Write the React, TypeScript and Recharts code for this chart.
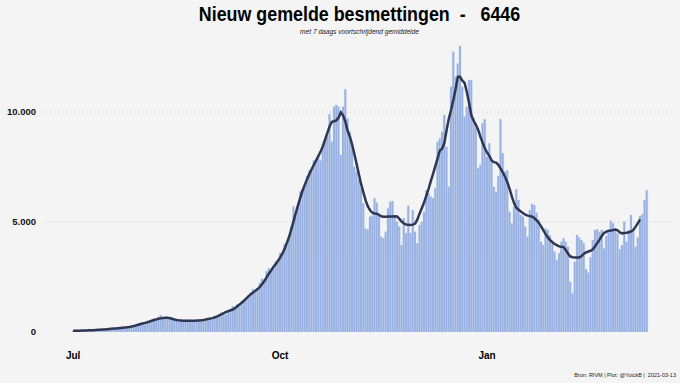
import { ComposedChart, Bar, Line, XAxis, YAxis, CartesianGrid } from "recharts";

const casesJul = [45, 43, 63, 70, 65, 47, 60, 73, 67, 93, 95, 78, 57, 75, 107, 136, 123, 150, 166, 128, 131, 189, 232, 206, 190, 208, 234, 311, 353, 387, 397];
const casesAug = [420, 340, 400, 520, 550, 600, 610, 690, 770, 620, 600, 650, 680, 620, 560, 500, 480, 500, 520, 560, 540, 490, 470, 480, 520, 560, 580, 540, 510, 550, 620];
const casesSep = [560, 640, 700, 760, 870, 800, 780, 900, 1000, 1180, 1140, 1270, 1150, 1250, 1450, 1500, 1650, 1800, 1950, 1850, 1980, 2230, 2420, 2380, 2760, 2900, 2780, 2890, 3200, 3150];
const casesOct = [3600, 3450, 4000, 3950, 4300, 4800, 5700, 5300, 5800, 6400, 6500, 6600, 7100, 7350, 7300, 7800, 7850, 8050, 7800, 8550, 8700, 8900, 9900, 8650, 10240, 10320, 10240, 8050, 10240, 11030, 9710];
const casesNov = [9100, 8580, 7510, 7300, 6910, 6530, 5850, 4710, 4660, 5240, 5300, 6080, 5880, 5390, 4330, 4260, 4560, 5620, 5920, 5950, 5240, 5010, 4790, 3950, 5180, 4500, 5740, 4500, 5545, 4560];
const casesDec = [4030, 4860, 5000, 5470, 6450, 6300, 6150, 6080, 6530, 8650, 8800, 9100, 9860, 8420, 6600, 11150, 12740, 11600, 12210, 13000, 11150, 9790, 10240, 11450, 11450, 9710, 9300, 7440, 7600, 9490, 9670];
const casesJan = [7970, 8580, 7820, 6600, 6380, 7090, 9670, 8120, 7290, 7350, 5470, 4940, 5700, 6490, 6000, 5320, 5250, 4790, 4330, 5545, 5820, 5770, 5420, 5100, 4100, 3950, 4720, 4640, 4400, 4000, 3650];
const casesFeb = [3270, 3580, 4100, 4260, 4100, 3880, 2290, 1760, 3200, 4410, 4300, 4180, 4030, 2850, 2700, 3400, 4180, 4640, 4670, 4550, 4640, 3800, 4360, 4550, 5060, 4940, 4720, 4480];
const casesMar = [3760, 3950, 5010, 4100, 4640, 5320, 4670, 3880, 4300, 5270, 5350, 6000, 6446];

const avgJul = [55, 57, 59, 60, 63, 66, 70, 74, 79, 85, 91, 97, 104, 111, 119, 127, 136, 145, 154, 163, 172, 182, 192, 203, 215, 232, 252, 275, 302, 332, 362];
const avgAug = [390, 415, 445, 475, 510, 545, 575, 600, 620, 635, 645, 645, 630, 600, 570, 550, 535, 525, 515, 510, 510, 512, 515, 517, 520, 525, 535, 550, 570, 595, 615];
const avgSep = [630, 670, 710, 760, 810, 860, 910, 950, 990, 1020, 1090, 1170, 1250, 1340, 1430, 1530, 1630, 1720, 1800, 1880, 1950, 2050, 2180, 2320, 2480, 2650, 2800, 2950, 3080, 3230];
const avgOct = [3380, 3560, 3780, 4050, 4330, 4680, 5050, 5420, 5780, 6120, 6430, 6700, 6950, 7180, 7400, 7600, 7800, 8000, 8200, 8450, 8750, 9050, 9350, 9550, 9580, 9620, 9750, 9980, 9850, 9560, 9150];
const avgNov = [8880, 8520, 8090, 7640, 7170, 6720, 6350, 5980, 5710, 5530, 5420, 5390, 5380, 5320, 5260, 5240, 5240, 5250, 5250, 5250, 5260, 5250, 5140, 5020, 4930, 4890, 4870, 4860, 4880, 4930];
const avgDec = [5120, 5390, 5640, 5900, 6200, 6520, 6870, 7200, 7550, 7900, 8250, 8330, 8600, 9180, 9700, 10100, 10550, 11050, 11600, 11600, 11420, 11320, 10900, 10400, 9850, 9600, 9420, 9200, 8880, 8600, 8350];
const avgJan = [8150, 8000, 7800, 7720, 7700, 7600, 7430, 7250, 7050, 6800, 6500, 6150, 5850, 5650, 5550, 5480, 5400, 5330, 5290, 5270, 5240, 5180, 5080, 4960, 4800, 4620, 4450, 4300, 4180, 4080, 4000];
const avgFeb = [3950, 3890, 3870, 3860, 3720, 3560, 3430, 3400, 3390, 3390, 3390, 3450, 3560, 3620, 3660, 3690, 3760, 3900, 4050, 4200, 4380, 4500, 4560, 4600, 4610, 4630, 4660, 4620];
const avgMar = [4530, 4480, 4500, 4510, 4530, 4570, 4640, 4790, 4950, 5120, null, null, null];

const xTicks = ["2020-07-01", "2020-10-01", "2021-01-01"];
const xTickLabels = ["Jul", "Oct", "Jan"];
const yTicks = [0, 5000, 10000];

const cases = [...casesJul, ...casesAug, ...casesSep, ...casesOct, ...casesNov, ...casesDec, ...casesJan, ...casesFeb, ...casesMar];
const avg = [...avgJul, ...avgAug, ...avgSep, ...avgOct, ...avgNov, ...avgDec, ...avgJan, ...avgFeb, ...avgMar];

const dayKey = (i: number) => new Date(Date.UTC(2020, 6, 1 + i)).toISOString().slice(0, 10);

const data = cases.map((c, i) => ({ date: dayKey(i), cases: c, avg: avg[i] }));

const fmt = (v: number) => String(v).replace(/\B(?=(\d{3})+(?!\d))/g, ".");
const FONT = "'Liberation Sans', Arial, sans-serif";

export default function App() {
  const last = cases[cases.length - 1];
  return (
    <div style={{ position: "absolute", left: 0, top: 0, width: 680, height: 383, background: "#f4f4f4", fontFamily: FONT, overflow: "hidden" }}>
      <div style={{ position: "absolute", left: 46, width: 627, top: 2, textAlign: "center", fontSize: 21, fontWeight: "bold", color: "#000", whiteSpace: "pre", transform: "scaleX(0.85)", transformOrigin: "center" }}>
        {`Nieuw gemelde besmettingen  -   ${last}`}
      </div>
      <div style={{ position: "absolute", left: 46, width: 627, top: 28, textAlign: "center", fontSize: 6.6, fontStyle: "italic", color: "#222" }}>
        met 7 daags voortschrijdend gemiddelde
      </div>
      <ComposedChart
        width={680}
        height={383}
        data={data}
        margin={{ top: 35, right: 7, left: 0, bottom: 0 }}
        barCategoryGap={0}
        barGap={0}
      >
        <CartesianGrid vertical={false} horizontalValues={[5000, 10000]} stroke="#c4c4c4" strokeDasharray="1 3" />
        <XAxis
          dataKey="date"
          ticks={xTicks}
          interval={0}
          tickFormatter={(d: string) => xTickLabels[xTicks.indexOf(d)] ?? ""}
          axisLine={false}
          tickLine={false}
          tickSize={0}
          tickMargin={20}
          height={51}
          padding={{ left: 26, right: 25 }}
          tick={{ fontSize: 10, fontWeight: "bold", fill: "#000" }}
        />
        <YAxis
          type="number"
          domain={[0, 13500]}
          ticks={yTicks}
          allowDataOverflow
          tickFormatter={fmt}
          axisLine={false}
          tickLine={false}
          tickSize={0}
          tickMargin={10}
          width={46}
          tick={{ fontSize: 9.5, fontWeight: "bold", fill: "#111" }}
        />
        <Bar dataKey="cases" fill="#98aee0" stroke="#aecbf0" strokeWidth={0.3} isAnimationActive={false} />
        <Line type="linear" dataKey="avg" stroke="#2f3652" strokeWidth={2.5} dot={false} isAnimationActive={false} />
      </ComposedChart>
      <div style={{ position: "absolute", right: 4, top: 372, fontSize: 5.5, color: "#222", whiteSpace: "pre" }}>
        {"Bron: RIVM | Plot: @YoickB |  2021-03-13"}
      </div>
    </div>
  );
}
